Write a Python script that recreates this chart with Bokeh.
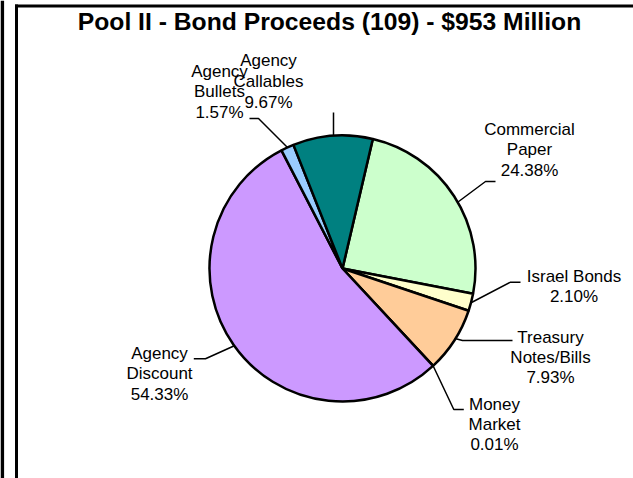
import numpy as np
from bokeh.plotting import figure
from bokeh.models import Range1d, ColumnDataSource
from bokeh.core.properties import value
from bokeh.embed import file_html
from bokeh.resources import INLINE

# ---------------- data ----------------
title_text = "Pool II - Bond Proceeds (109) - $953 Million"
categories = ["Commercial Paper", "Israel Bonds", "Treasury Notes/Bills", "Money Market",
              "Agency Discount", "Agency Bullets", "Agency Callables"]
percentages = [24.38, 2.10, 7.93, 0.01, 54.33, 1.57, 9.67]
label_names = [["Commercial", "Paper"], ["Israel Bonds"], ["Treasury", "Notes/Bills"],
               ["Money", "Market"], ["Agency", "Discount"], ["Agency", "Bullets"],
               ["Agency", "Callables"]]
colors = ["#CCFFCC", "#FFFFCC", "#FFCC99", "#3366FF", "#CC99FF", "#99CCFF", "#008080"]

# ---------------- layout (screen px) ----------------
W, H = 633, 478
def sy(y):
    return 478 - y

cx, cy, R = 342, 268, 133
first_angle = 13.2  # degrees clockwise from 12 o'clock

label_x = [529, 573.5, 550, 494, 159, 219, 268]
# vertical centres of each text line
label_mid = [[128.5, 149, 169.5], [275.5, 296], [337, 356.5, 377], [404, 424, 443.5],
             [352.5, 373, 393.5], [71, 91, 111.5], [59.5, 80.5, 101.5]]
leaders = [
    [(495, 181), (485, 181), (457.5, 201.5)],
    [(520, 281.7), (510, 281.7), (471, 302)],
    [(512, 340), (462, 340), (454.5, 338)],
    [(432.7, 365.5), (453.3, 409), (463.3, 409)],
    [(193.3, 358.3), (205, 358.3), (233.3, 345.5)],
    [(249, 118), (258, 118), (287, 147)],
    [(333, 112), (333, 135.5)],
]

p = figure(width=W, height=H, output_backend="svg", toolbar_location=None,
           x_range=Range1d(0, W), y_range=Range1d(478 - H, 478),
           min_border=0, outline_line_color=None)
p.axis.visible = False
p.grid.visible = False
p.background_fill_color = "white"
p.border_fill_color = "white"

# wedges
vals = np.array(percentages)
cum = np.concatenate([[0], np.cumsum(vals)])
start_deg = first_angle + cum[:-1] * 3.6
end_deg = first_angle + cum[1:] * 3.6
src = ColumnDataSource(dict(
    x=[cx] * len(vals), y=[sy(cy)] * len(vals),
    start=np.radians(90 - start_deg), end=np.radians(90 - end_deg),
    color=colors, name=categories))
p.wedge(x="x", y="y", radius=R, start_angle="start", end_angle="end",
        direction="clock", fill_color="color", line_color="black", line_width=2.5,
        source=src)

# leader lines
for pts in leaders:
    p.line([q[0] for q in pts], [sy(q[1]) for q in pts], line_color="black", line_width=1.5)

# labels
tx, ty, tt = [], [], []
for i, cat in enumerate(categories):
    lines = label_names[i] + [f"{percentages[i]:.2f}%"]
    for ln, m in zip(lines, label_mid[i]):
        tx.append(label_x[i]); ty.append(sy(m)); tt.append(ln)
p.text(x=tx, y=ty, text=tt, text_font=value("Liberation Sans"), text_font_size="17px",
       text_align="center", text_baseline="alphabetic", text_color="black")

# title
p.text(x=[329], y=[sy(21)], text=[title_text], text_font=value("Liberation Sans"),
       text_font_size="24.7px", text_font_style="bold", text_align="center",
       text_baseline="alphabetic", text_color="black")

# frame lines
p.line([1.8, 1.8], [sy(0), sy(478)], line_color="black", line_width=3.6)
p.line([16, 16], [sy(4), sy(478)], line_color="black", line_width=3)
p.line([14.5, 633], [sy(5.5), sy(5.5)], line_color="black", line_width=3)

open("out.html", "w").write(file_html(p, INLINE))
